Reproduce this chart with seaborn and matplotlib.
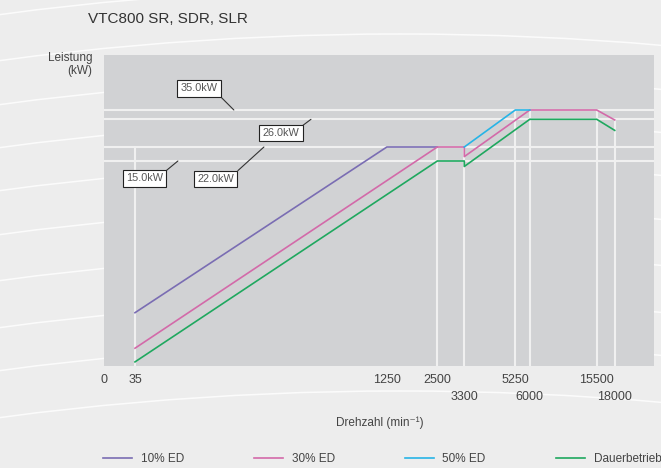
import numpy as np
import pandas as pd
import matplotlib
matplotlib.use('Agg')
import matplotlib.pyplot as plt
from matplotlib.patches import Arc
from matplotlib.transforms import IdentityTransform
import seaborn as sns

# power (kW) over spindle speed (min^-1) per duty cycle
rpm_10 = [35, 1250, 2500]
kw_10 = [3.9, 22.0, 22.0]
rpm_30 = [35, 2500, 3300, 3300, 6000, 15500, 18000]
kw_30 = [1.3, 22.0, 22.0, 17.2, 35.0, 35.0, 25.9]
rpm_50 = [3300, 5250, 6000]
kw_50 = [22.0, 35.0, 35.0]
rpm_s1 = [35, 2500, 3300, 3300, 6000, 15500, 18000]
kw_s1 = [0.3, 15.0, 15.0, 14.6, 26.0, 26.0, 24.4]

series_names = ['10% ED', '30% ED', '50% ED', 'Dauerbetrieb']
colors = ['#7a6db3', '#d36aa9', '#27b4e6', '#1fa85f']

# upper and lower row of speed labels
tick_rpm_top = [0, 35, 1250, 2500, 5250, 15500]
tick_rpm_low = [3300, 6000, 18000]

level_kw = [35.0, 26.0, 22.0, 15.0]
level_labels = ['35.0kW', '26.0kW', '22.0kW', '15.0kW']
drop_rpm = [35, 2500, 3300, 5250, 6000, 15500, 18000]
drop_kw = [22.0, 22.0, 22.0, 35.0, 35.0, 35.0, 25.9]

# the chart is schematic: both axes are piecewise linear
x_anchor_rpm = [0, 35, 1250, 2500, 3300, 5250, 6000, 15500, 18000, 22000]
x_anchor_pos = [0, 31, 283, 333.5, 360.5, 411.5, 426, 493, 511, 550]
y_anchor_kw = [0, 15, 22, 26, 35, 45]
y_anchor_pos = [0, 205, 219, 246.7, 256, 311]


def x_fwd(v):
    return np.interp(v, x_anchor_rpm, x_anchor_pos)


def x_inv(v):
    return np.interp(v, x_anchor_pos, x_anchor_rpm)


def y_fwd(v):
    return np.interp(v, y_anchor_kw, y_anchor_pos)


def y_inv(v):
    return np.interp(v, y_anchor_pos, y_anchor_kw)


frames = []
for name, r, k in zip(series_names, [rpm_10, rpm_30, rpm_50, rpm_s1], [kw_10, kw_30, kw_50, kw_s1]):
    frames.append(pd.DataFrame({'rpm': r, 'kw': k, 'mode': name}))
df = pd.concat(frames, ignore_index=True)

plt.rcParams['font.family'] = ['Liberation Sans', 'DejaVu Sans']

fig = plt.figure(figsize=(6.61, 4.68), dpi=100)
fig.patch.set_facecolor('#ededed')

# white swooshes of the brochure background
for y0 in [22, 68, 112, 155, 198, 242, 288, 335, 378, 425]:
    R = 3034
    cx, cy = 400, 468 - (y0 + 3000)
    arc = Arc((cx, cy), 2 * R, 2 * R, theta1=80, theta2=100,
              transform=IdentityTransform(), color='white', lw=1.1, alpha=0.8,
              zorder=-10)
    fig.add_artist(arc)

ax = fig.add_axes([104 / 661, 1 - 366 / 468, (653.7 - 104) / 661, (366 - 55) / 468])
ax.set_facecolor('#d1d2d4')

sns.lineplot(data=df, x='rpm', y='kw', hue='mode', hue_order=series_names,
             palette=dict(zip(series_names, colors)), estimator=None, sort=False,
             linewidth=1.2, ax=ax, zorder=3)

ax.set_xscale('function', functions=(x_fwd, x_inv))
ax.set_yscale('function', functions=(y_fwd, y_inv))
ax.set_xlim(0, 22000)
ax.set_ylim(0, 45)

ax.hlines(level_kw, 0, 22000, colors='#f0f0f0', lw=1.5, zorder=1)
ax.vlines(drop_rpm, 0, drop_kw, colors='#f0f0f0', lw=1.5, zorder=1)

ax.set_xticks(tick_rpm_top)
ax.set_xticklabels([str(v) for v in tick_rpm_top])
ax.set_xticks(tick_rpm_low, minor=True)
ax.set_xticklabels([str(v) for v in tick_rpm_low], minor=True)
ax.set_yticks([])
ax.set_yticks([], minor=True)
ax.tick_params(axis='x', which='major', length=0, pad=6, labelsize=9, colors='#444444')
ax.tick_params(axis='x', which='minor', length=0, pad=18, labelsize=9, colors='#444444')
ax.set_xlabel('')
ax.set_ylabel('')
for s in ax.spines.values():
    s.set_visible(False)

# level call-outs
callout_xy = [(512, 35.0), (884, 26.0), (657, 22.0), (242, 15.0)]
callout_off = [(-25.2, 15.5), (-21.6, -9.9), (-34.6, -23.0), (-24.1, -12.5)]
callout_rel = [(1, 0), (1, 1), (1, 1), (1, 1)]
for lab, xy, off, rel in zip(level_labels, callout_xy, callout_off, callout_rel):
    ax.annotate(lab, xy=xy, xytext=off, textcoords='offset points',
                ha='center', va='center', fontsize=7.8, color='#555555',
                bbox=dict(boxstyle='square,pad=0.3', fc='white', ec='#222222', lw=0.8),
                arrowprops=dict(arrowstyle='-', color='#333333', lw=0.8,
                                shrinkA=0, shrinkB=0, relpos=rel),
                zorder=5)

handles, labels = ax.get_legend_handles_labels()
ax.get_legend().remove()
fig.legend(handles, labels, loc='center left', bbox_to_anchor=(103 / 661, 1 - 459.5 / 468),
           ncol=4, frameon=False, fontsize=8.5, handlelength=2.45, handletextpad=0.73,
           columnspacing=5.95, borderpad=0, borderaxespad=0, labelcolor='#444444')

fig.text(88 / 661, 1 - 19 / 468, 'VTC800 SR, SDR, SLR', ha='left', va='center',
         fontsize=11, color='#333333')
fig.text(92.5 / 661, 1 - 52 / 468, 'Leistung\n(kW)', ha='right', va='top',
         fontsize=8.5, color='#444444', linespacing=1.1)
fig.text(379.6 / 661, 1 - 422.7 / 468, 'Drehzahl (min\u207b\u00b9)', ha='center', va='center',
         fontsize=8.5, color='#444444')

fig.savefig('out.png', dpi=100, facecolor=fig.get_facecolor())
